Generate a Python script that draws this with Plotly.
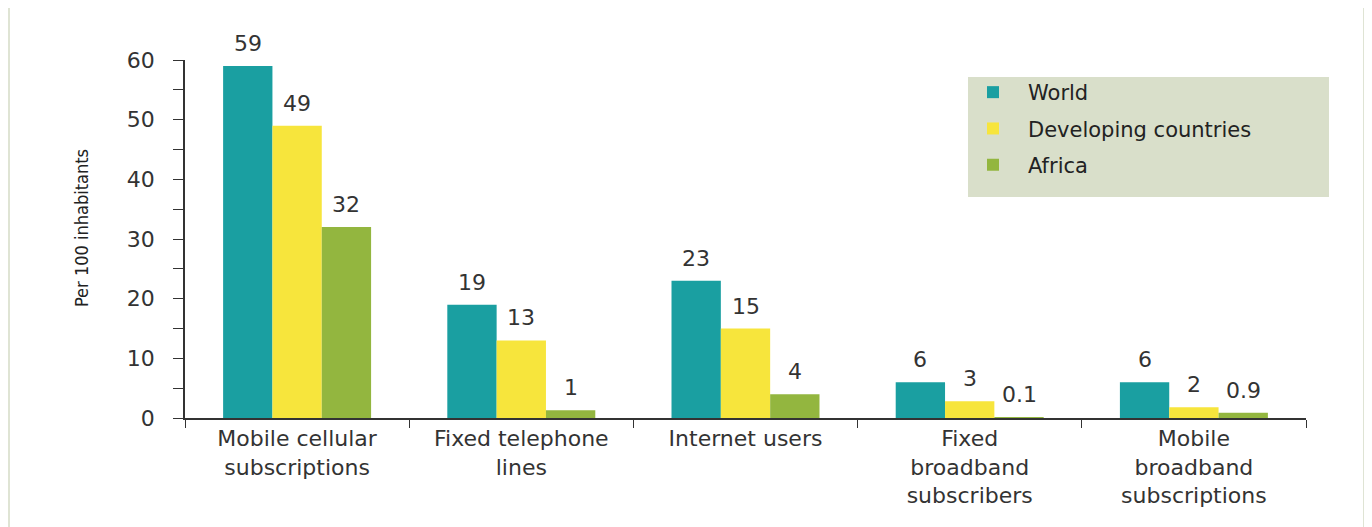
import plotly.graph_objects as go

categories = ["Mobile cellular<br>subscriptions", "Fixed telephone<br>lines", "Internet users",
              "Fixed<br>broadband<br>subscribers", "Mobile<br>broadband<br>subscriptions"]
series_names = ["World", "Developing countries", "Africa"]
world = [59, 19, 23, 6, 6]
developing = [49, 13, 15, 2.8, 1.8]
africa = [32, 1.3, 4, 0.1, 0.9]
label_world = ["59", "19", "23", "6", "6"]
label_developing = ["49", "13", "15", "3", "2"]
label_africa = ["32", "1", "4", "0.1", "0.9"]
y_tickvals = [0, 5, 10, 15, 20, 25, 30, 35, 40, 45, 50, 55, 60]
y_ticktext = ["0", "", "10", "", "20", "", "30", "", "40", "", "50", "", "60"]

colors = ["#1a9fa1", "#f7e53c", "#93b63f"]
FONT = "DejaVu Sans"
OFF = 8  # page body margin offset
W, H = 1372, 527
ML, MT = 185 - OFF, 60 - OFF
PW, PH = 1121, 358
MR, MB = W - ML - PW, H - MT - PH
BARGAP = 0.34

fig = go.Figure()
all_vals = [world, developing, africa]
all_labels = [label_world, label_developing, label_africa]
for i, (name, vals) in enumerate(zip(series_names, all_vals)):
    fig.add_trace(go.Bar(
        x=categories, y=vals, name=name, marker=dict(color=colors[i], line=dict(width=0)),
        legendgroup=name, hoverinfo="skip",
    ))

cw = PW / len(categories)
bw = cw * (1 - BARGAP) / 3
annotations = []
for i, (vals, labs) in enumerate(zip(all_vals, all_labels)):
    for c, v, t in zip(categories, vals, labs):
        annotations.append(dict(
            x=c, y=v, xref="x", yref="y", text=t, showarrow=False,
            xshift=(i - 1) * bw, yshift=8, yanchor="bottom",
            font=dict(family=FONT, size=22, color="#333333"),
        ))

def px_x(p):
    return (p - OFF - ML) / PW
def px_y(p):
    return (MT + PH - (p - OFF)) / PH

annotations.append(dict(
    x=px_x(82), y=px_y(228), xref="paper", yref="paper", text="Per 100 inhabitants",
    textangle=-90, showarrow=False, xanchor="center", yanchor="middle",
    font=dict(family="DejaVu Sans Condensed, Liberation Sans, sans-serif", size=18, color="#222222"),
))

shapes = [
    dict(type="rect", xref="paper", yref="paper", x0=px_x(968), x1=px_x(1329), y0=px_y(197), y1=px_y(77),
         fillcolor="#d9dfca", line=dict(width=0), layer="below"),
    dict(type="line", xref="paper", yref="paper", x0=px_x(9), x1=px_x(9), y0=px_y(8), y1=px_y(540),
         line=dict(color="#dfe4d4", width=2)),
    dict(type="line", xref="paper", yref="paper", x0=px_x(1364), x1=px_x(1364), y0=px_y(8), y1=px_y(540),
         line=dict(color="#dfe4d4", width=2)),
]

fig.update_layout(
    width=W, height=H, margin=dict(l=ML, r=MR, t=MT, b=MB),
    paper_bgcolor="white", plot_bgcolor="white",
    barmode="group", bargap=BARGAP, bargroupgap=0,
    font=dict(family=FONT, size=22, color="#333333"),
    showlegend=True,
    legend=dict(x=px_x(958), y=px_y(72), xanchor="left", yanchor="top", itemwidth=60,
                bgcolor="rgba(0,0,0,0)", font=dict(family=FONT, size=21, color="#222222"),
                tracegroupgap=6, traceorder="grouped"),
    annotations=annotations, shapes=shapes,
)
fig.update_xaxes(showline=True, linecolor="#333333", linewidth=1.5, ticks="outside",
                 tickson="boundaries", ticklen=8, tickcolor="#333333", showgrid=False,
                 tickfont=dict(family=FONT, size=22, color="#333333"))
fig.update_yaxes(range=[0, 60], showline=True, linecolor="#333333", linewidth=1.5,
                 ticks="outside", ticklen=10, tickcolor="#333333", showgrid=False, zeroline=False,
                 tickvals=y_tickvals, ticktext=y_ticktext, ticklabelstandoff=14,
                 tickfont=dict(family=FONT, size=22, color="#333333"))

fig.write_html("out.html")
